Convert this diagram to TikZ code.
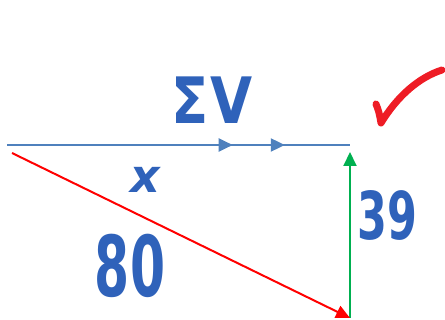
\documentclass[tikz,border=0pt]{standalone}
\usepackage{fontspec}
\setmainfont{DejaVu Sans}
\usetikzlibrary{arrows.meta,decorations.markings}
\definecolor{lineblue}{HTML}{4F81BD}
\definecolor{inkblue}{HTML}{2F62BA}
\definecolor{vred}{HTML}{FF0000}
\definecolor{vgreen}{HTML}{00B050}
\definecolor{tickred}{HTML}{EE1C25}
\tikzset{
  vec/.style={line width=2pt},
  hand/.style={text=inkblue, font=\bfseries, inner sep=0pt},
  tip/.style={-{Triangle[length=14pt,width=13pt]}}
}
\begin{document}
\begin{tikzpicture}[x=1pt,y=-1pt]
\useasboundingbox (0,0) rectangle (445,320);
\coordinate (A) at (7,145);
\coordinate (B) at (350,145);
\coordinate (C) at (350,318);
\coordinate (D) at (12,153);
\draw[vec, color=lineblue, decoration={markings,
  mark=at position 0.658 with {\arrow{Triangle[length=14pt,width=13pt]}},
  mark=at position 0.810 with {\arrow{Triangle[length=14pt,width=13pt]}}},
  postaction={decorate}] (A) -- (B);
\draw[vec, color=vgreen, tip] (C) -- ([yshift=-7pt]B);
\draw[vec, color=vred, tip] (D) -- (C);
\node[hand, font=\fontsize{64}{64}\selectfont\bfseries, xscale=0.85] (sum) at (212,100) {Σ\hspace{2pt}V};
\node[hand, font=\fontsize{46}{46}\selectfont\itshape\bfseries] (x) at (145,180) {x};
\node[hand, font=\fontsize{84}{84}\selectfont\bfseries, xscale=0.6] (e) at (130,266) {80};
\node[hand, font=\fontsize{66}{66}\selectfont\bfseries, xscale=0.65] (n) at (387,215) {39};
\draw[tickred, line width=7pt, line cap=round, line join=round]
  (376,104) .. controls (379,112) .. (381,123) .. controls (398,95) and (420,77) .. (442,70);
\end{tikzpicture}
\end{document}
